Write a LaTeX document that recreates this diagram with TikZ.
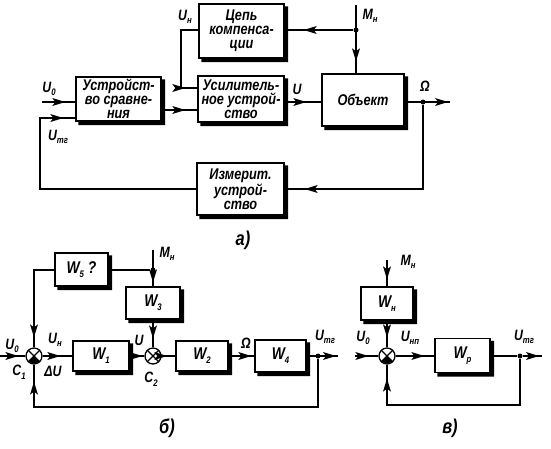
\documentclass[tikz,border=0pt]{standalone}
\usepackage{fontspec}
\newfontfamily\hand[FakeStretch=0.82]{Liberation Sans}
\usetikzlibrary{arrows.meta,decorations.markings,calc}
\newcommand\lsub[1]{\raisebox{-0.45ex}{\fontsize{9.5}{9.5}\selectfont #1}}
\tikzset{
  ln/.style={line width=1.3pt},
  arr/.style={postaction={decorate,decoration={markings,
     mark=at position #1 with {\fill (-13pt,-4pt) -- (0pt,0pt) -- (-13pt,4pt) -- (-10pt,0pt) -- cycle;}}}},
  arr/.default=-10pt,
  blk/.style={draw,line width=1.4pt,fill=white,align=center,inner sep=0pt,
     font=\hand\bfseries\itshape\fontsize{15.5}{14}\selectfont},
  wblk/.style={blk,font=\hand\bfseries\itshape\fontsize{17}{17}\selectfont},
  shad/.style={fill=black},
  lab/.style={font=\hand\bfseries\itshape\fontsize{15}{15}\selectfont,inner sep=0pt},
  captxt/.style={font=\hand\bfseries\itshape\fontsize{20}{20}\selectfont,inner sep=0pt},
  summ/.style={circle,draw,line width=1.3pt,minimum size=16pt,inner sep=0pt},
  dot/.style={circle,fill,inner sep=0pt,minimum size=5pt}
}
\newcommand\sumcross[2]{%
  \draw[line width=1.1pt] (#1.45)--(#1.-135) (#1.135)--(#1.-45);
  \ifx#2f\begin{scope}\clip (#1.center) circle[radius=7.5pt];
    \fill (#1.center) -- ++(-10,10) -- ++(20,0) -- cycle;\end{scope}\fi}
\newcommand\boxshadow[1]{%
  \fill[shad] ($(#1.north east)+(0,3)$) -- ++(3.4,0) -- ($(#1.south east)+(3.4,3.4)$)
    -- ($(#1.south west)+(3,3.4)$) -- ($(#1.south west)+(3,0)$) -- (#1.south east) -- cycle;}
\begin{document}
\begin{tikzpicture}[x=1pt,y=-1pt]
\useasboundingbox (0,0) rectangle (551,448);
% ---------- (a) ----------
\node[blk,minimum width=85pt,minimum height=44pt] (cmp) at (118.5,99) {Устройст-\\во сравне-\\ния};
\node[blk,minimum width=86pt,minimum height=46pt] (amp) at (241,99) {Усилитель-\\ное устрой-\\ство};
\node[blk,minimum width=85pt,minimum height=54pt] (comp) at (241.5,31) {Цепь\\компенса-\\ции};
\node[blk,minimum width=82pt,minimum height=52pt] (obj) at (363,100) {Объект};
\node[blk,minimum width=87pt,minimum height=52pt] (meas) at (240.5,189) {Измерит.\\устрой-\\ство};
\coordinate (u0a) at (42,102);
\coordinate (fbL) at (40,118);
\coordinate (unL) at (181,88);
\node[dot] (ja) at (423,102) {};
\coordinate (outa) at (450,102);
\coordinate (mtop) at (356,5);
\node[dot] (jm) at (356,30) {};
\draw[ln,arr] (u0a) -- (u0a -| cmp.west);
\draw[ln,arr=-12pt] (meas.west) -| (fbL) -- (fbL -| cmp.west);
\draw[ln,arr=-12pt] (cmp.east |- 0,110) -- (amp.west |- 0,110);
\draw[ln,arr=-12pt] (comp.west |- jm) -| (unL) -- (unL -| amp.west);
\draw[ln,arr=-15pt] (amp.east |- ja) -- (obj.west |- ja);
\draw[ln,arr=-2pt] (obj.east |- ja) -- (outa);
\draw[ln,arr=-20pt] (ja) |- (meas.east);
\draw[ln,arr=-12pt] (mtop) -- (mtop |- obj.north);
\draw[ln,arr=-19pt] (jm) -- (comp.east |- jm);
\node[lab] (la1) at (49,89) {U\lsub{0}};
\node[lab] (la2) at (58,137) {U\lsub{тг}};
\node[lab] (la3) at (185,17) {U\lsub{н}};
\node[lab] (la4) at (297,89) {U};
\node[lab] (la5) at (425,86) {Ω};
\node[lab] (la6) at (370,16) {M\lsub{н}};
\node[captxt] (capa) at (243,240) {а)};
% ---------- (b) ----------
\node[summ] (c1) at (34,356) {};
\node[summ] (c2) at (153,356) {};
\sumcross{c1}{f}
\sumcross{c2}{n}
\node[wblk,minimum width=53pt,minimum height=33pt] (w5) at (81.5,269.5) {W\lsub{5} ?};
\node[wblk,minimum width=54pt,minimum height=32pt] (w3) at (153,303) {W\lsub{3}};
\node[wblk,minimum width=56pt,minimum height=30pt] (w1) at (101,356) {W\lsub{1}};
\node[wblk,minimum width=52pt,minimum height=30pt] (w2) at (202,356) {W\lsub{2}};
\node[wblk,minimum width=51pt,minimum height=32pt] (w4) at (280.5,356) {W\lsub{4}};
\coordinate (u0b) at (0,356);
\coordinate (mtb) at (153,250);
\node[dot] (jmb) at (153,270) {};
\node[dot] (jb) at (318,356) {};
\coordinate (outb) at (338,356);
\coordinate (fbb) at (318,407);
\draw[ln,arr=-7pt] (u0b) -- (c1.west);
\draw[ln] (jmb) -- (w5.east |- jmb);
\draw[ln,arr=-10pt] (w5.west |- jmb) -| (c1.north);
\draw[ln,arr=-4pt] (mtb) -- (w3.north);
\draw[ln,arr=-9pt] (w3.south) -- (c2.north);
\draw[ln,arr=-12pt] (c1.east) -- (w1.west);
\draw[ln,arr=-2pt] (w1.east) -- (c2.west);
\draw[ln,arr=-8pt] (c2.east) -- (w2.west);
\draw[ln,arr=-3pt] (w2.east) -- (w4.west);
\draw[ln,arr=-2pt] (w4.east) -- (outb);
\draw[ln,arr=-17pt] (jb) -- (fbb) -| (c1.south);
\node[lab] (lb1) at (12,346) {U\lsub{0}};
\node[lab] (lb2) at (55,340) {U\lsub{н}};
\node[lab] (lb3) at (19,372) {C\lsub{1}};
\node[lab] (lb4) at (53,371) {ΔU};
\node[lab] (lb5) at (139,340) {U};
\node[lab] (lb6) at (151,379) {C\lsub{2}};
\node[lab] (lb7) at (246,343) {Ω};
\node[lab] (lb8) at (167,254) {M\lsub{н}};
\node[lab] (lb9) at (325,337) {U\lsub{тг}};
\node[captxt] (capb) at (167,428) {б)};
% ---------- (c) ----------
\node[summ] (c3) at (387,356) {};
\sumcross{c3}{f}
\node[wblk,minimum width=52pt,minimum height=33pt] (wn) at (387,303.5) {W\lsub{н}};
\node[wblk,minimum width=55pt,minimum height=34pt] (wp) at (462.5,355.5) {W\lsub{р}};
\coordinate (u0c) at (355,356);
\coordinate (mtc) at (387,260);
\node[dot] (jc) at (520,356) {};
\coordinate (outc) at (542,356);
\coordinate (fbc) at (520,405);
\draw[ln,arr=-10pt] (u0c) -- (c3.west);
\draw[ln,arr=-7pt] (mtc) -- (wn.north);
\draw[ln,arr=-10pt] (wn.south) -- (c3.north);
\draw[ln,arr=-10pt] (c3.east) -- (c3.east -| wp.west);
\draw[ln] (c3.east -| wp.east) -- (jc);
\draw[ln,arr=-3pt] (jc) -- (outc);
\draw[ln,arr=-14pt] (jc) -- (fbc) -| (c3.south);
\node[lab] (lc1) at (363,338) {U\lsub{0}};
\node[lab] (lc2) at (410,338) {U\lsub{нп}};
\node[lab] (lc3) at (408,262) {M\lsub{н}};
\node[lab] (lc4) at (524,337) {U\lsub{тг}};
\node[captxt] (capc) at (450,428) {в)};
% ---------- shadows ----------
\foreach \bx in {cmp,amp,comp,obj,meas,w5,w3,w1,w2,w4,wn,wp} {\boxshadow{\bx}}
\end{tikzpicture}
\end{document}
